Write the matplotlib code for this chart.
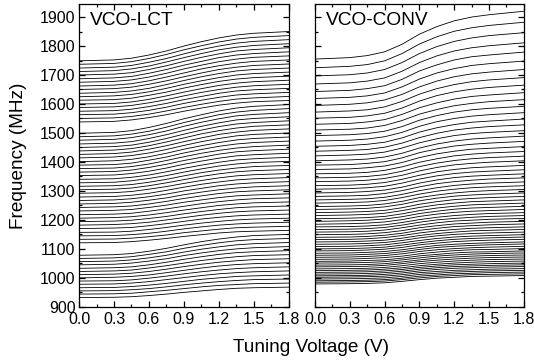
import numpy as np
import matplotlib
matplotlib.use("Agg")
import matplotlib.pyplot as plt
from matplotlib.ticker import MultipleLocator, FormatStrFormatter

plt.rcParams["font.family"] = ["Liberation Sans", "DejaVu Sans"]

# tuning voltages where the curves were read (V)
volts = [0.0, 0.3, 0.45, 0.6, 0.75, 0.9, 1.05, 1.2, 1.35, 1.5, 1.8]

# VCO-LCT: frequency (MHz) of every band at each tuning voltage, top band first
lct_00 = [1749, 1737, 1724, 1712, 1700, 1687, 1675, 1662, 1650, 1637, 1625, 1613, 1600, 1588, 1575, 1563,
          1550, 1538, 1499, 1487, 1475, 1462, 1450, 1438, 1426, 1414, 1401, 1389, 1377, 1365, 1353, 1340,
          1328, 1316, 1304, 1292, 1279, 1267, 1255, 1243, 1231, 1218, 1206, 1194, 1182, 1170, 1157, 1145,
          1133, 1121, 1078, 1067, 1056, 1045, 1033, 1022, 1011, 1000, 989, 978, 966, 955, 944, 932]
lct_03 = [1752, 1740, 1727, 1715, 1703, 1690, 1678, 1665, 1653, 1640, 1628, 1615, 1602, 1590, 1577, 1565,
          1552, 1540, 1502, 1490, 1478, 1465, 1453, 1441, 1429, 1417, 1404, 1391, 1379, 1367, 1355, 1342,
          1330, 1318, 1306, 1294, 1281, 1269, 1257, 1245, 1233, 1220, 1208, 1196, 1184, 1172, 1158, 1146,
          1134, 1122, 1080, 1069, 1058, 1047, 1035, 1024, 1013, 1002, 990, 979, 967, 956, 945, 933]
lct_045 = [1758, 1746, 1733, 1721, 1708, 1695, 1683, 1670, 1658, 1645, 1633, 1620, 1607, 1595, 1582, 1570,
           1557, 1545, 1508, 1496, 1484, 1470, 1458, 1446, 1434, 1422, 1409, 1396, 1384, 1372, 1360, 1347,
           1335, 1322, 1310, 1298, 1285, 1273, 1261, 1248, 1236, 1223, 1211, 1199, 1187, 1174, 1161, 1149,
           1137, 1125, 1084, 1073, 1062, 1051, 1038, 1027, 1016, 1005, 993, 982, 970, 959, 947, 935]
lct_06 = [1769, 1757, 1744, 1731, 1719, 1706, 1693, 1680, 1668, 1654, 1642, 1630, 1616, 1604, 1591, 1578,
          1565, 1553, 1519, 1506, 1494, 1481, 1468, 1456, 1444, 1431, 1418, 1406, 1393, 1381, 1368, 1355,
          1343, 1330, 1318, 1306, 1292, 1280, 1268, 1255, 1243, 1230, 1217, 1205, 1192, 1180, 1167, 1154,
          1142, 1130, 1092, 1081, 1069, 1058, 1045, 1034, 1022, 1010, 999, 987, 975, 963, 952, 939]
lct_075 = [1783, 1771, 1757, 1745, 1732, 1719, 1706, 1693, 1680, 1667, 1654, 1641, 1628, 1615, 1602, 1589,
           1576, 1563, 1533, 1520, 1507, 1494, 1481, 1469, 1456, 1443, 1430, 1417, 1405, 1392, 1379, 1366,
           1353, 1340, 1328, 1315, 1302, 1289, 1276, 1264, 1251, 1238, 1225, 1212, 1200, 1187, 1174, 1161,
           1148, 1136, 1102, 1090, 1078, 1066, 1054, 1042, 1030, 1018, 1006, 994, 981, 969, 957, 944]
lct_09 = [1800, 1787, 1773, 1760, 1747, 1734, 1721, 1707, 1694, 1681, 1668, 1655, 1641, 1628, 1615, 1602,
          1588, 1575, 1549, 1536, 1523, 1509, 1496, 1483, 1470, 1457, 1444, 1431, 1418, 1405, 1392, 1378,
          1365, 1352, 1339, 1326, 1313, 1300, 1287, 1274, 1261, 1247, 1234, 1221, 1208, 1195, 1182, 1169,
          1156, 1143, 1114, 1102, 1089, 1077, 1064, 1051, 1039, 1026, 1014, 1001, 988, 976, 963, 950]
lct_105 = [1815, 1801, 1788, 1774, 1761, 1747, 1734, 1721, 1707, 1694, 1680, 1667, 1653, 1640, 1626, 1613,
           1599, 1586, 1563, 1550, 1537, 1523, 1510, 1497, 1483, 1470, 1456, 1443, 1430, 1416, 1403, 1389,
           1376, 1363, 1350, 1336, 1323, 1309, 1296, 1283, 1269, 1256, 1242, 1229, 1216, 1203, 1189, 1176,
           1162, 1149, 1125, 1112, 1099, 1086, 1073, 1060, 1047, 1034, 1021, 1008, 995, 982, 969, 955]
lct_12 = [1828, 1814, 1800, 1787, 1773, 1760, 1746, 1732, 1719, 1705, 1691, 1678, 1664, 1650, 1637, 1623,
          1609, 1596, 1576, 1563, 1549, 1535, 1522, 1508, 1495, 1481, 1467, 1454, 1440, 1427, 1413, 1399,
          1386, 1372, 1359, 1345, 1331, 1318, 1304, 1291, 1277, 1263, 1250, 1236, 1223, 1209, 1195, 1182,
          1168, 1155, 1134, 1121, 1107, 1094, 1081, 1067, 1054, 1041, 1027, 1014, 1000, 987, 974, 960]
lct_135 = [1838, 1824, 1810, 1796, 1783, 1769, 1755, 1741, 1727, 1714, 1700, 1686, 1672, 1658, 1645, 1631,
           1617, 1603, 1586, 1572, 1559, 1545, 1531, 1517, 1503, 1490, 1476, 1462, 1448, 1435, 1421, 1407,
           1393, 1379, 1366, 1352, 1338, 1324, 1310, 1297, 1283, 1269, 1255, 1242, 1228, 1214, 1200, 1186,
           1173, 1159, 1141, 1128, 1114, 1100, 1087, 1073, 1059, 1046, 1032, 1018, 1005, 991, 977, 964]
lct_15 = [1844, 1830, 1816, 1802, 1788, 1774, 1761, 1747, 1733, 1719, 1705, 1691, 1677, 1663, 1649, 1635,
          1621, 1608, 1592, 1578, 1564, 1550, 1536, 1523, 1509, 1495, 1481, 1467, 1453, 1439, 1425, 1411,
          1398, 1384, 1370, 1356, 1342, 1328, 1314, 1300, 1286, 1273, 1259, 1245, 1231, 1217, 1203, 1189,
          1175, 1161, 1146, 1132, 1118, 1104, 1090, 1077, 1063, 1049, 1035, 1021, 1007, 994, 980, 966]
lct_18 = [1850, 1836, 1822, 1808, 1794, 1780, 1766, 1752, 1738, 1724, 1710, 1696, 1682, 1668, 1654, 1640,
          1626, 1612, 1598, 1584, 1570, 1556, 1542, 1528, 1514, 1500, 1486, 1472, 1458, 1444, 1430, 1416,
          1402, 1388, 1374, 1360, 1346, 1332, 1318, 1304, 1290, 1276, 1262, 1248, 1234, 1220, 1206, 1192,
          1178, 1164, 1150, 1136, 1122, 1108, 1094, 1080, 1066, 1052, 1038, 1024, 1010, 996, 982, 968]

# VCO-CONV: same layout
conv_00 = [1755, 1725, 1697, 1669, 1643, 1619, 1595, 1572, 1551, 1530, 1510, 1491, 1472, 1454, 1437, 1421,
           1404, 1389, 1374, 1359, 1345, 1332, 1318, 1306, 1293, 1281, 1269, 1258, 1246, 1236, 1225, 1215,
           1204, 1195, 1185, 1176, 1167, 1158, 1149, 1140, 1132, 1124, 1116, 1108, 1100, 1093, 1085, 1078,
           1071, 1064, 1057, 1051, 1044, 1038, 1031, 1025, 1019, 1013, 1007, 1002, 996, 990, 985, 979]
conv_03 = [1760, 1730, 1701, 1673, 1647, 1623, 1599, 1576, 1554, 1533, 1513, 1494, 1475, 1457, 1440, 1424,
           1407, 1391, 1376, 1361, 1347, 1334, 1320, 1308, 1295, 1283, 1271, 1260, 1248, 1238, 1227, 1217,
           1206, 1197, 1187, 1177, 1168, 1159, 1150, 1141, 1133, 1125, 1117, 1109, 1101, 1094, 1086, 1079,
           1072, 1065, 1058, 1052, 1045, 1039, 1032, 1026, 1020, 1014, 1008, 1003, 997, 991, 986, 980]
conv_045 = [1767, 1736, 1707, 1679, 1653, 1628, 1604, 1580, 1559, 1538, 1517, 1498, 1479, 1461, 1443, 1427,
            1410, 1395, 1380, 1364, 1350, 1337, 1323, 1311, 1298, 1285, 1273, 1262, 1250, 1240, 1229, 1219,
            1208, 1199, 1189, 1179, 1170, 1161, 1152, 1143, 1135, 1127, 1119, 1111, 1103, 1096, 1088, 1081,
            1074, 1067, 1060, 1053, 1046, 1040, 1033, 1027, 1021, 1015, 1009, 1004, 998, 992, 987, 981]
conv_06 = [1780, 1749, 1719, 1690, 1663, 1638, 1614, 1590, 1568, 1546, 1526, 1506, 1487, 1468, 1451, 1434,
           1417, 1401, 1386, 1371, 1356, 1343, 1329, 1316, 1303, 1291, 1278, 1267, 1255, 1245, 1233, 1223,
           1212, 1203, 1193, 1183, 1174, 1165, 1156, 1147, 1139, 1130, 1122, 1114, 1106, 1099, 1091, 1084,
           1077, 1070, 1062, 1056, 1049, 1043, 1036, 1030, 1024, 1018, 1012, 1006, 1000, 994, 989, 983]
conv_075 = [1806, 1774, 1743, 1713, 1685, 1659, 1633, 1609, 1586, 1564, 1543, 1522, 1502, 1483, 1465, 1448,
            1430, 1414, 1398, 1383, 1368, 1354, 1340, 1327, 1313, 1301, 1288, 1277, 1264, 1254, 1242, 1232,
            1221, 1211, 1201, 1191, 1182, 1173, 1163, 1154, 1146, 1137, 1129, 1121, 1113, 1105, 1097, 1090,
            1083, 1075, 1068, 1062, 1055, 1049, 1042, 1035, 1029, 1023, 1017, 1011, 1005, 999, 994, 988]
conv_09 = [1841, 1807, 1774, 1743, 1714, 1686, 1659, 1634, 1610, 1587, 1565, 1544, 1523, 1503, 1484, 1466,
           1448, 1432, 1415, 1399, 1384, 1369, 1354, 1341, 1327, 1314, 1301, 1289, 1277, 1266, 1254, 1243,
           1232, 1222, 1212, 1201, 1192, 1182, 1173, 1164, 1155, 1146, 1138, 1129, 1121, 1114, 1105, 1098,
           1091, 1083, 1076, 1069, 1062, 1056, 1049, 1042, 1036, 1030, 1024, 1018, 1012, 1006, 1000, 994]
conv_105 = [1867, 1832, 1798, 1766, 1735, 1707, 1679, 1653, 1629, 1604, 1581, 1560, 1539, 1518, 1499, 1480,
            1462, 1445, 1428, 1411, 1396, 1381, 1366, 1352, 1338, 1325, 1311, 1299, 1286, 1275, 1263, 1252,
            1241, 1230, 1220, 1209, 1200, 1190, 1180, 1171, 1162, 1153, 1145, 1136, 1128, 1120, 1112, 1105,
            1097, 1089, 1081, 1075, 1068, 1061, 1054, 1047, 1041, 1035, 1029, 1022, 1016, 1010, 1005, 999]
conv_12 = [1887, 1851, 1816, 1783, 1752, 1722, 1694, 1667, 1642, 1617, 1594, 1572, 1550, 1529, 1510, 1491,
           1472, 1455, 1437, 1421, 1405, 1390, 1374, 1360, 1346, 1332, 1319, 1306, 1293, 1282, 1270, 1258,
           1247, 1237, 1226, 1215, 1205, 1196, 1186, 1177, 1167, 1158, 1150, 1141, 1133, 1125, 1116, 1109,
           1101, 1094, 1086, 1079, 1072, 1065, 1058, 1051, 1045, 1039, 1033, 1026, 1020, 1014, 1008, 1002]
conv_135 = [1900, 1863, 1828, 1794, 1763, 1733, 1704, 1677, 1651, 1626, 1602, 1580, 1558, 1537, 1517, 1498,
            1479, 1461, 1444, 1427, 1411, 1395, 1380, 1365, 1351, 1337, 1324, 1311, 1298, 1286, 1274, 1263,
            1252, 1241, 1230, 1219, 1209, 1199, 1189, 1180, 1171, 1162, 1153, 1144, 1136, 1128, 1119, 1112,
            1104, 1097, 1089, 1082, 1075, 1068, 1061, 1054, 1047, 1041, 1035, 1028, 1022, 1016, 1011, 1005]
conv_15 = [1908, 1871, 1836, 1801, 1769, 1739, 1710, 1683, 1657, 1631, 1608, 1585, 1563, 1541, 1522, 1502,
           1483, 1465, 1447, 1431, 1415, 1399, 1383, 1368, 1354, 1341, 1327, 1314, 1301, 1289, 1277, 1265,
           1254, 1243, 1232, 1222, 1212, 1202, 1192, 1183, 1173, 1164, 1155, 1146, 1138, 1130, 1121, 1114,
           1106, 1098, 1090, 1084, 1077, 1070, 1063, 1056, 1049, 1043, 1037, 1030, 1024, 1018, 1012, 1006]
conv_18 = [1920, 1882, 1846, 1811, 1779, 1748, 1719, 1691, 1665, 1639, 1615, 1592, 1570, 1548, 1528, 1508,
           1489, 1471, 1453, 1436, 1420, 1404, 1388, 1373, 1359, 1345, 1331, 1318, 1305, 1293, 1281, 1269,
           1258, 1247, 1236, 1225, 1215, 1205, 1195, 1186, 1176, 1167, 1158, 1149, 1141, 1133, 1124, 1117,
           1109, 1101, 1093, 1086, 1079, 1072, 1065, 1058, 1051, 1045, 1039, 1032, 1026, 1020, 1014, 1008]

lct = np.array([lct_00, lct_03, lct_045, lct_06, lct_075, lct_09, lct_105, lct_12, lct_135, lct_15, lct_18])
conv = np.array([conv_00, conv_03, conv_045, conv_06, conv_075, conv_09, conv_105, conv_12, conv_135,
                 conv_15, conv_18])

fig = plt.figure(figsize=(5.34, 3.64), dpi=100)
ax1 = fig.add_axes([0.148, 0.157, 0.393, 0.832])
ax2 = fig.add_axes([0.590, 0.157, 0.391, 0.832])

for ax, freqs, name in [(ax1, lct, "VCO-LCT"), (ax2, conv, "VCO-CONV")]:
    ax.plot(volts, freqs, color="black", lw=0.6)
    ax.set_xlim(0, 1.8)
    ax.set_ylim(900, 1945)
    ax.xaxis.set_major_locator(MultipleLocator(0.3))
    ax.xaxis.set_minor_locator(MultipleLocator(0.15))
    ax.yaxis.set_major_locator(MultipleLocator(100))
    ax.yaxis.set_minor_locator(MultipleLocator(50))
    ax.xaxis.set_major_formatter(FormatStrFormatter("%.1f"))
    ax.tick_params(which="both", direction="in", top=True, right=True, width=0.9, labelsize=11.5)
    ax.tick_params(which="major", length=4.5)
    ax.tick_params(which="minor", length=2.5)
    ax.tick_params(axis="y", pad=2.5)
    ax.tick_params(axis="x", pad=4)
    for s in ax.spines.values():
        s.set_linewidth(0.9)
    ax.text(0.05, 0.975, name, transform=ax.transAxes, fontsize=13.8, va="top", ha="left")

ax2.tick_params(labelleft=False)

fig.text(0.583, 0.044, "Tuning Voltage (V)", ha="center", va="center", fontsize=13.7)
fig.text(0.034, 0.573, "Frequency (MHz)", ha="center", va="center", rotation=90, fontsize=13.7)

fig.savefig("out.png", dpi=100)
